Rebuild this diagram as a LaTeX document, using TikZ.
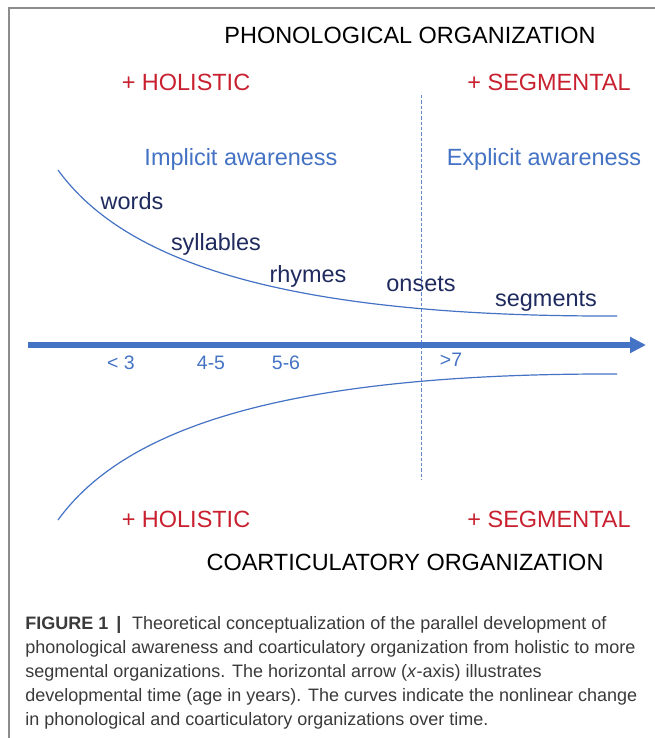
\documentclass[tikz,border=0pt]{standalone}
\usepackage{fontspec}
\setmainfont{Liberation Sans}
\usepackage{xcolor}
\usetikzlibrary{arrows.meta}
\definecolor{figblue}{HTML}{4472C4}
\definecolor{figred}{HTML}{C8202F}
\definecolor{fignavy}{HTML}{1F2A5E}
\definecolor{capgray}{HTML}{3A3A3A}
\definecolor{framegray}{HTML}{8C8C8C}
\tikzset{
    lbl/.style={font=\fontsize{17.6}{20}\selectfont, inner sep=0pt, anchor=base},
    heading/.style={lbl, text=black},
    pole/.style={lbl, text=figred},
    awareness/.style={lbl, text=figblue},
    unit/.style={lbl, text=fignavy},
    age/.style={font=\fontsize{14.6}{17}\selectfont, text=figblue, inner sep=0pt, anchor=base},
    % lines
    curve/.style={figblue, line width=0.9pt},
    timeline/.style={-{Triangle[length=12pt,width=11.5pt]}, figblue, line width=3.8pt},
    divider/.style={figblue!85, line width=0.75pt, dash pattern=on 2.5pt off 1.5pt},
    frame/.style={framegray, line width=0.9pt},
    caption/.style={font=\fontsize{13.5}{18}\selectfont, text=capgray, inner sep=0pt, align=left, anchor=north west}
}
\begin{document}
\begin{tikzpicture}[x=0.75pt, y=-0.75pt]
    \useasboundingbox (0,0) rectangle (655,738);

    % Frame, open at right and bottom
    \coordinate (framebl) at (9,738);
    \coordinate (frametl) at (9,8);
    \coordinate (frametr) at (655,8);
    \draw[frame] (framebl) -- (frametl) -- (frametr);

    % Headings
    \node[heading] (phonhead) at (410,43.5) {PHONOLOGICAL ORGANIZATION};
    \node[pole] (holtop) at (186,91) {+ HOLISTIC};
    \node[pole] (segtop) at (549,91) {+ SEGMENTAL};
    \node[awareness] (implicit) at (241,166) {Implicit awareness};
    \node[awareness] (explicit) at (544,166) {Explicit awareness};

    % Units of phonological awareness
    \node[unit] (words) at (132,209) {words};
    \node[unit] (syllables) at (216,250.5) {syllables};
    \node[unit] (rhymes) at (308,282) {rhymes};
    \node[unit] (onsets) at (421,291.5) {onsets};
    \node[unit] (segments) at (546,306.5) {segments};

    % Divider between implicit and explicit
    \coordinate (divtop) at (421,95);
    \coordinate (divbot) at (421,480);
    \draw[divider] (divtop) -- (divbot);

    % Phonological curve
    \coordinate (phonstart) at (58,170);
    \coordinate (phonend) at (617,316);
    \draw[curve] (phonstart) .. controls (126,264) and (290,317) .. (phonend);

    % Time axis
    \coordinate (tstart) at (28,345);
    \coordinate (tend) at (646,345);
    \draw[timeline] (tstart) -- (tend);
    \node[age] (age3) at (121,369.5) {< 3};
    \node[age] (age45) at (211,369.5) {4-5};
    \node[age] (age56) at (286,369.5) {5-6};
    \node[age] (age7) at (451,366.5) {>7};

    % Coarticulatory curve
    \coordinate (coarstart) at (58,520);
    \coordinate (coarend) at (617,374);
    \draw[curve] (coarstart) .. controls (126,426) and (290,373) .. (coarend);

    \node[pole] (holbot) at (186,527.5) {+ HOLISTIC};
    \node[pole] (segbot) at (549,527.5) {+ SEGMENTAL};
    \node[heading] (coarhead) at (405,570) {COARTICULATORY ORGANIZATION};

    % Caption
    \node[caption] (figcap) at (25,616) {%
        \textbf{FIGURE 1}\hspace{0.45em}\textbf{|}\hspace{0.6em}Theoretical conceptualization of the parallel development of\\
        phonological awareness and coarticulatory organization from holistic to more\\
        segmental organizations. The horizontal arrow (\textit{x}-axis) illustrates\\
        developmental time (age in years). The curves indicate the nonlinear change\\
        in phonological and coarticulatory organizations over time.};
\end{tikzpicture}
\end{document}
